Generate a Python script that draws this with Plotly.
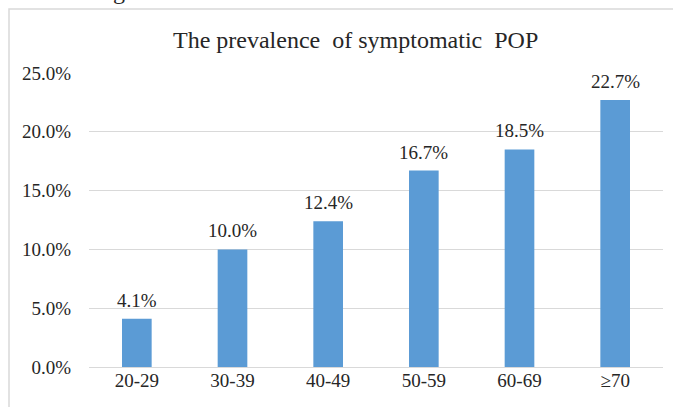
import plotly.graph_objects as go

categories = ["20-29", "30-39", "40-49", "50-59", "60-69", "≥70"]
prevalence = [4.1, 10.0, 12.4, 16.7, 18.5, 22.7]
y_ticks = [0, 5, 10, 15, 20, 25]
y_tick_labels = ["0.0%", "5.0%", "10.0%", "15.0%", "20.0%", "25.0%"]
title_text = "The prevalence\u00a0\u00a0of symptomatic\u00a0\u00a0POP"

FONT = "Liberation Serif, Times New Roman, serif"
TXT = "#262626"

fig = go.Figure(go.Bar(
    x=categories,
    y=prevalence,
    marker=dict(color="#5B9BD5", line=dict(width=0)),
    hoverinfo="skip",
))

L, R, T, B = 89, 10, 73, 40
W, H = 673, 407
pw, ph = W - L - R, H - T - B

def px_x(x):
    return (x - L) / pw

def px_y(y):
    return (H - B - y) / ph

value_labels = [
    dict(text=f"{v:.1f}%", x=c, y=v, xref="x", yref="y",
         xanchor="center", yanchor="bottom", yshift=6, showarrow=False,
         font=dict(family=FONT, size=19, color=TXT))
    for c, v in zip(categories, prevalence)
]

fig.update_layout(
    width=W, height=H,
    margin=dict(l=L, r=R, t=T, b=B, pad=0, autoexpand=False),
    paper_bgcolor="white", plot_bgcolor="white",
    bargap=0.69,
    showlegend=False,
    font=dict(family=FONT, size=19, color=TXT),
    xaxis=dict(
        showgrid=False, showline=False, zeroline=False, automargin=False,
        ticks="", tickfont=dict(family=FONT, size=19, color=TXT),
    ),
    yaxis=dict(
        range=[0, 25], tickvals=y_ticks, ticktext=y_tick_labels, automargin=False,
        showgrid=True, gridcolor="#d9d9d9", gridwidth=1.3,
        zeroline=True, zerolinecolor="#d9d9d9", zerolinewidth=1.3,
        showline=False, ticks="", ticklabelstandoff=17,
        tickfont=dict(family=FONT, size=19, color=TXT),
    ),
    shapes=[dict(
        type="rect", xref="paper", yref="paper",
        x0=px_x(9), x1=px_x(700), y0=px_y(430), y1=px_y(9),
        line=dict(color="#d9d9d9", width=1.5), fillcolor="rgba(0,0,0,0)",
        layer="below",
    )],
    annotations=value_labels + [
        dict(text=title_text, xref="paper", yref="paper",
             x=px_x(355), y=px_y(40), xanchor="center", yanchor="middle",
             showarrow=False, font=dict(family=FONT, size=24, color=TXT)),
        dict(text="g", xref="paper", yref="paper",
             x=px_x(119), y=px_y(-9), xanchor="center", yanchor="middle",
             showarrow=False, font=dict(family=FONT, size=24, color=TXT)),
    ],
)

fig.write_html(
    "out.html",
    config={"displayModeBar": False},
    post_script="document.body.style.margin='0';document.body.style.overflow='hidden';",
)
